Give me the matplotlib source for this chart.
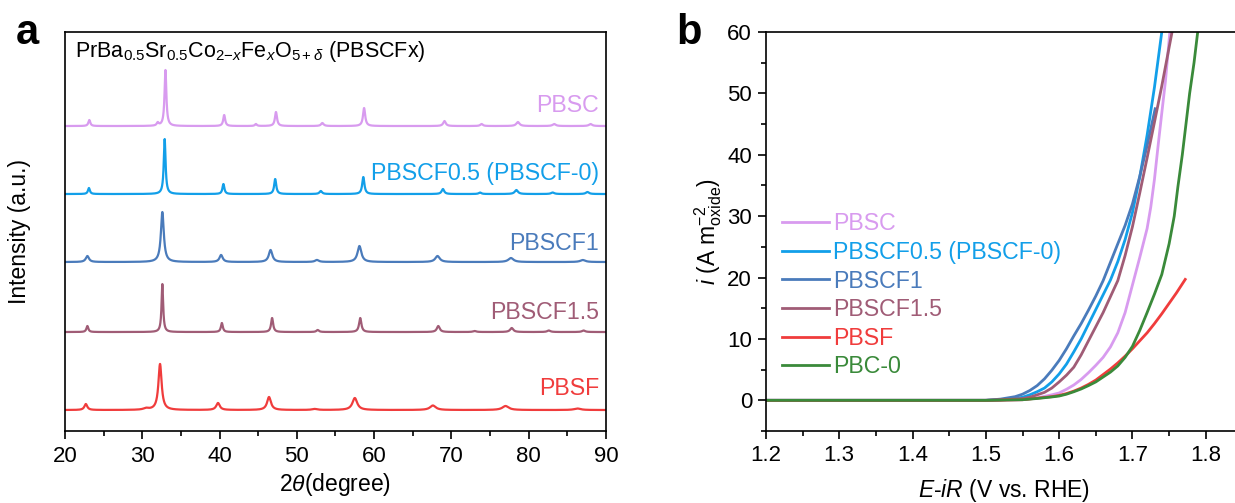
import numpy as np
import matplotlib
matplotlib.use("Agg")
import matplotlib.pyplot as plt
from matplotlib.ticker import MultipleLocator

plt.rcParams['font.family'] = ['Liberation Sans', 'DejaVu Sans']
plt.rcParams['mathtext.fontset'] = 'custom'
plt.rcParams['mathtext.rm'] = 'Liberation Sans'
plt.rcParams['mathtext.it'] = 'Liberation Sans:italic'
plt.rcParams['mathtext.bf'] = 'Liberation Sans:bold'

# ---------------- panel a : XRD peak lists (2theta, height, fwhm) ----------------
xrd_names = ['PBSC', 'PBSCF0.5 (PBSCF-0)', 'PBSCF1', 'PBSCF1.5', 'PBSF']
xrd_colors = ['#d89bef', '#129fe9', '#4a7bbb', '#a05c76', '#f03c3c']
xrd_offsets = [305, 237, 169, 99, 21]
xrd_label_y = [326, 258, 188, 119, 43]

pbsc_pos = [23.15, 32.0, 33.0, 40.6, 44.7, 47.3, 53.3, 58.7, 69.1, 73.9, 78.6, 83.3, 88.0]
pbsc_hgt = [6, 3, 56, 11, 2, 14, 3, 18, 5, 2, 4, 2, 2]
pbsc_wid = [0.3, 0.3, 0.28, 0.3, 0.3, 0.32, 0.4, 0.34, 0.4, 0.4, 0.5, 0.5, 0.5]

pbscf05_pos = [23.1, 32.9, 40.5, 47.2, 53.1, 58.6, 68.9, 73.7, 78.4, 83.1, 87.6]
pbscf05_hgt = [6, 55, 10, 15, 3, 17, 5, 1.5, 4, 1.5, 2]
pbscf05_wid = [0.3, 0.28, 0.3, 0.32, 0.4, 0.34, 0.4, 0.4, 0.5, 0.5, 0.5]

pbscf1_pos = [22.9, 32.6, 40.2, 46.6, 52.6, 58.1, 68.2, 77.7, 87.0]
pbscf1_hgt = [6, 50, 7, 12, 2, 16, 6, 4, 2]
pbscf1_wid = [0.5, 0.45, 0.5, 0.55, 0.6, 0.6, 0.7, 0.8, 0.8]

pbscf15_pos = [22.9, 32.6, 40.3, 46.8, 52.7, 58.2, 68.3, 73.0, 77.8, 82.6, 87.1]
pbscf15_hgt = [6, 48, 9, 14, 2, 14, 6, 1, 4, 1.5, 1.5]
pbscf15_wid = [0.3, 0.25, 0.3, 0.32, 0.4, 0.36, 0.45, 0.5, 0.5, 0.5, 0.5]

pbsf_pos = [22.7, 30.5, 32.3, 39.8, 46.4, 52.3, 57.5, 67.6, 77.0, 86.3]
pbsf_hgt = [6, 1.5, 46, 7, 13, 1, 12, 4.5, 4, 1.5]
pbsf_wid = [0.45, 0.8, 0.5, 0.55, 0.6, 0.8, 0.75, 0.9, 1.0, 1.0]

xrd_peaks = [(pbsc_pos, pbsc_hgt, pbsc_wid),
             (pbscf05_pos, pbscf05_hgt, pbscf05_wid),
             (pbscf1_pos, pbscf1_hgt, pbscf1_wid),
             (pbscf15_pos, pbscf15_hgt, pbscf15_wid),
             (pbsf_pos, pbsf_hgt, pbsf_wid)]

# ---------------- panel b : polarization curves (E-iR, i) ----------------
lsv_names = ['PBSC', 'PBSCF0.5 (PBSCF-0)', 'PBSCF1', 'PBSCF1.5', 'PBSF', 'PBC-0']
lsv_colors = ['#d89bef', '#129fe9', '#4a7bbb', '#a05c76', '#f03c3c', '#3a8a3a']

pbsc_E = [1.20, 1.50, 1.55, 1.57, 1.59, 1.60, 1.61, 1.62, 1.63, 1.64, 1.65, 1.66, 1.67, 1.68,
          1.69, 1.70, 1.71, 1.72, 1.725, 1.73, 1.735, 1.74, 1.745, 1.751]
pbsc_i = [0, 0, 0.1, 0.4, 0.9, 1.2, 1.8, 2.5, 3.4, 4.5, 5.7, 7.0, 8.7, 11.0,
          14.3, 18.8, 23.3, 28.0, 31.5, 36.0, 41.5, 46.8, 52.0, 60]

pbscf05_E = [1.20, 1.50, 1.52, 1.54, 1.55, 1.56, 1.57, 1.58, 1.59, 1.60, 1.61, 1.62, 1.63,
             1.64, 1.65, 1.66, 1.67, 1.68, 1.69, 1.70, 1.71, 1.72, 1.73, 1.74]
pbscf05_i = [0, 0, 0.1, 0.3, 0.5, 0.9, 1.4, 2.0, 3.0, 4.3, 5.9, 7.9, 10.0,
             12.4, 14.8, 17.2, 19.6, 22.6, 26.2, 30.6, 36.4, 43.2, 51.0, 60]

pbscf1_E = [1.20, 1.50, 1.51, 1.52, 1.53, 1.54, 1.55, 1.56, 1.57, 1.58, 1.59, 1.60, 1.61,
            1.62, 1.63, 1.64, 1.65, 1.66, 1.67, 1.68, 1.69, 1.70, 1.71, 1.72, 1.731]
pbscf1_i = [0, 0, 0.1, 0.2, 0.4, 0.6, 1.0, 1.6, 2.4, 3.5, 4.9, 6.5, 8.4,
            10.5, 12.5, 14.7, 17.0, 19.5, 22.5, 25.5, 28.5, 32.0, 36.5, 41.5, 47.5]

pbscf15_E = [1.20, 1.50, 1.52, 1.54, 1.55, 1.56, 1.57, 1.58, 1.59, 1.60, 1.61, 1.62, 1.63,
             1.64, 1.65, 1.66, 1.67, 1.68, 1.69, 1.70, 1.71, 1.72, 1.73, 1.74, 1.75, 1.754]
pbscf15_i = [0, 0, 0.05, 0.2, 0.3, 0.5, 0.9, 1.3, 2.0, 3.0, 4.1, 5.4, 7.4,
             9.7, 12.0, 14.3, 16.9, 19.5, 23.6, 28.3, 33.8, 39.5, 45.3, 51.2, 57.5, 60]

pbsf_E = [1.20, 1.50, 1.55, 1.57, 1.59, 1.60, 1.61, 1.62, 1.63, 1.64, 1.65, 1.66, 1.67,
          1.68, 1.69, 1.70, 1.71, 1.72, 1.73, 1.74, 1.75, 1.76, 1.772]
pbsf_i = [0, 0, 0.1, 0.35, 0.6, 0.8, 1.1, 1.5, 2.0, 2.6, 3.3, 4.2, 5.1,
          6.1, 7.2, 8.4, 9.7, 11.0, 12.5, 14.1, 15.8, 17.5, 19.7]

pbc0_E = [1.20, 1.50, 1.55, 1.57, 1.59, 1.60, 1.61, 1.62, 1.63, 1.64, 1.65, 1.66, 1.67,
          1.68, 1.69, 1.70, 1.71, 1.72, 1.73, 1.74, 1.75, 1.757, 1.762, 1.768, 1.773,
          1.778, 1.784, 1.789]
pbc0_i = [0, 0, 0.1, 0.3, 0.55, 0.7, 1.0, 1.4, 1.85, 2.4, 3.0, 3.8, 4.6,
          5.6, 7.0, 8.8, 11.4, 14.3, 17.3, 20.5, 25.5, 30, 34.8, 40, 45,
          50, 55, 60]

lsv_E = [pbsc_E, pbscf05_E, pbscf1_E, pbscf15_E, pbsf_E, pbc0_E]
lsv_i = [pbsc_i, pbscf05_i, pbscf1_i, pbscf15_i, pbsf_i, pbc0_i]

fig = plt.figure(figsize=(12.35, 5.03), dpi=100)
ax1 = fig.add_axes([0.0526, 0.1431, 0.4381, 0.7932])
ax2 = fig.add_axes([0.6202, 0.1431, 0.3858, 0.7932])

# panel a
tt = np.linspace(20, 90, 3500)
for (pos, hgt, wid), off, col in zip(xrd_peaks, xrd_offsets, xrd_colors):
    y = np.zeros_like(tt)
    for c, h, w in zip(pos, hgt, wid):
        y += h / (1 + ((tt - c) / (w / 2)) ** 2)
    ax1.plot(tt, y + off, color=col, lw=1.6)
for name, col, ly in zip(xrd_names, xrd_colors, xrd_label_y):
    ax1.text(89.1, ly, name, color=col, fontsize=16.7, ha='right', va='center')

ax1.text(21.3, 374, r'PrBa$_{0.5}$Sr$_{0.5}$Co$_{2\mathrm{-}\it{x}}$Fe$_{\it{x}}$O$_{5+\delta}$ (PBSCFx)',
         fontsize=15.5, ha='left', va='baseline')
ax1.set_xlim(20, 90)
ax1.set_ylim(0, 399)
ax1.xaxis.set_major_locator(MultipleLocator(10))
ax1.xaxis.set_minor_locator(MultipleLocator(5))
ax1.tick_params(axis='x', which='major', direction='out', length=6, width=1.2, labelsize=16, pad=5)
ax1.tick_params(axis='x', which='minor', direction='out', length=3.5, width=1.2)
ax1.tick_params(axis='y', left=False, labelleft=False)
ax1.set_ylabel('Intensity (a.u.)', fontsize=16.5)
ax1.yaxis.set_label_coords(-0.063, 0.5)
ax1.set_xlabel(r'2$\theta$(degree)', fontsize=16.5, labelpad=3)
for s in ax1.spines.values():
    s.set_linewidth(1.2)

# panel b
for E, i, name, col in zip(lsv_E, lsv_i, lsv_names, lsv_colors):
    ax2.plot(E, i, color=col, lw=2, label=name)
ax2.set_xlim(1.2, 1.85)
ax2.set_ylim(-5, 60)
ax2.xaxis.set_major_locator(MultipleLocator(0.1))
ax2.xaxis.set_minor_locator(MultipleLocator(0.05))
ax2.yaxis.set_major_locator(MultipleLocator(10))
ax2.yaxis.set_minor_locator(MultipleLocator(5))
ax2.tick_params(which='major', direction='out', length=6, width=1.2, labelsize=16, pad=4)
ax2.tick_params(which='minor', direction='out', length=3.5, width=1.2)
ax2.set_xticks([1.2, 1.3, 1.4, 1.5, 1.6, 1.7, 1.8])
ax2.set_ylabel(r'$\it{i}$ (A m$^{-2}_{\mathrm{oxide}}$)', fontsize=16.5)
ax2.yaxis.set_label_coords(-0.088, 0.5)
ax2.set_xlabel(r'$\it{E}$-$\it{iR}$ (V vs. RHE)', fontsize=16.5, labelpad=8)
for s in ax2.spines.values():
    s.set_linewidth(1.2)
ax2.legend(loc='upper left', bbox_to_anchor=(0.034, 0.548), frameon=False, fontsize=16.7,
           handlelength=2.0, handletextpad=0.18, labelspacing=0.24, borderpad=0,
           borderaxespad=0, labelcolor='linecolor')

fig.text(0.013, 0.935, 'a', fontsize=30, fontweight='bold', va='center')
fig.text(0.548, 0.935, 'b', fontsize=30, fontweight='bold', va='center')

fig.savefig('out.png', dpi=100)
